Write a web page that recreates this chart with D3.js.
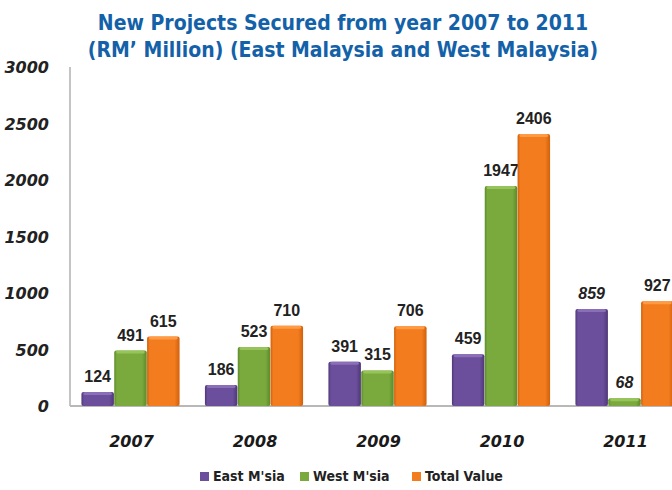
<!DOCTYPE html>
<html lang="en">
<meta charset="utf-8">
<head>
    <script src='https://d3js.org/d3.v7.min.js'></script>
    <style>
        body { margin: 0; background: #ffffff; }
    </style>
</head>
<body>
<div id="chart"></div>

<script>

// data
var years = ["2007", "2008", "2009", "2010", "2011"]
var seriesNames = ["East M'sia", "West M'sia", "Total Value"]
var eastValues = [124, 186, 391, 459, 859]
var westValues = [491, 523, 315, 1947, 68]
var totalValues = [615, 710, 706, 2406, 927]
var yTicks = [0, 500, 1000, 1500, 2000, 2500, 3000]
var titleLines = ["New Projects Secured from year 2007 to 2011",
                  "(RM\u2019 Million) (East Malaysia and West Malaysia)"]

var colors = ["#6b4f9c", "#7aaa3e", "#f27c1e"]
var darker = ["#4f3778", "#5c8a2a", "#d0600c"]
var lighter = ["#8a6fb8", "#97c45a", "#ff9a45"]

var width = 672, height = 490

var svg = d3.select("#chart")
    .append("svg")
    .attr("width", width)
    .attr("height", height)

// gradients for the bevelled bar look
var defs = svg.append("defs")
for (var i = 0; i < 3; i++) {
    var g = defs.append("linearGradient")
        .attr("id", "grad" + i)
        .attr("x1", "0%").attr("x2", "100%")
        .attr("y1", "0%").attr("y2", "0%")
    g.append("stop").attr("offset", "0%").attr("stop-color", darker[i])
    g.append("stop").attr("offset", "8%").attr("stop-color", colors[i])
    g.append("stop").attr("offset", "85%").attr("stop-color", colors[i])
    g.append("stop").attr("offset", "100%").attr("stop-color", darker[i])
}

// title
svg.append("g")
    .selectAll("text")
    .data(titleLines)
    .join("text")
    .attr("x", 343)
    .attr("y", function(d, i) { return 30 + i * 27 })
    .attr("text-anchor", "middle")
    .style("font-family", "'DejaVu Sans Condensed', 'DejaVu Sans', sans-serif")
    .style("font-stretch", "condensed")
    .style("font-weight", "bold")
    .style("font-size", "21px")
    .style("fill", "#1361a8")
    .text(function(d) { return d })

// scales
var x = d3.scaleBand()
    .domain(years)
    .range([68.75, 686.25])
    .paddingInner(0.2)
    .paddingOuter(0.1)

var xSub = d3.scaleBand()
    .domain([0, 1, 2])
    .range([0, x.bandwidth()])
    .padding(0.01)

var y = d3.scaleLinear()
    .domain([0, 3000])
    .range([406, 67])

// axis lines
svg.append("line")
    .attr("x1", 70).attr("x2", 70)
    .attr("y1", y(3000)).attr("y2", y(0))
    .attr("stroke", "#b0b0b0")
    .attr("stroke-width", 1.5)
svg.append("line")
    .attr("x1", 70).attr("x2", width)
    .attr("y1", y(0)).attr("y2", y(0))
    .attr("stroke", "#b8b8b8")
    .attr("stroke-width", 2)

// y tick labels
svg.append("g")
    .selectAll("text")
    .data(yTicks)
    .join("text")
    .attr("x", 49)
    .attr("y", function(d) { return y(d) + 6 })
    .attr("text-anchor", "end")
    .style("font-family", "'DejaVu Sans', sans-serif")
    .style("font-style", "italic")
    .style("font-weight", "bold")
    .style("font-size", "16px")
    .style("fill", "#222")
    .text(function(d) { return d })

// bars
var rows = years.map(function(yr, i) {
    return { year: yr, values: [eastValues[i], westValues[i], totalValues[i]] }
})

var groups = svg.append("g")
    .selectAll("g")
    .data(rows)
    .join("g")
    .attr("transform", function(d) { return "translate(" + x(d.year) + ",0)" })

var cells = groups.selectAll("g")
    .data(function(d) { return d.values.map(function(v, k) { return { k: k, v: v, year: d.year } }) })
    .join("g")

cells.append("rect")
    .attr("x", function(d) { return xSub(d.k) })
    .attr("y", function(d) { return y(d.v) })
    .attr("width", xSub.bandwidth())
    .attr("height", function(d) { return y(0) - y(d.v) })
    .attr("rx", 2)
    .attr("fill", function(d) { return "url(#grad" + d.k + ")" })

// light top edge
cells.append("rect")
    .attr("x", function(d) { return xSub(d.k) + 2 })
    .attr("y", function(d) { return y(d.v) })
    .attr("width", xSub.bandwidth() - 4)
    .attr("height", function(d) { return Math.min(3, y(0) - y(d.v)) })
    .attr("rx", 1.5)
    .attr("fill", function(d) { return lighter[d.k] })

// value labels
cells.append("text")
    .attr("x", function(d) { return xSub(d.k) + xSub.bandwidth() / 2 })
    .attr("y", function(d) { return y(d.v) - 10 })
    .attr("text-anchor", "middle")
    .style("font-family", "'Liberation Sans', Arial, sans-serif")
    .style("font-weight", "bold")
    .style("font-size", "16px")
    .style("font-style", function(d) { return d.year == "2011" && d.k < 2 ? "italic" : "normal" })
    .style("fill", "#222")
    .text(function(d) { return d.v })

// category labels
svg.append("g")
    .selectAll("text")
    .data(years)
    .join("text")
    .attr("x", function(d) { return x(d) + x.bandwidth() / 2 + 1 })
    .attr("y", 447)
    .attr("text-anchor", "middle")
    .style("font-family", "'DejaVu Sans', sans-serif")
    .style("font-style", "italic")
    .style("font-weight", "bold")
    .style("font-size", "16px")
    .style("fill", "#1a1a1a")
    .text(function(d) { return d })

// legend
var legendX = [200, 300, 412]
var legend = svg.append("g")
    .selectAll("g")
    .data(seriesNames)
    .join("g")
    .attr("transform", function(d, i) { return "translate(" + legendX[i] + ",472)" })

legend.append("rect")
    .attr("width", 9)
    .attr("height", 9)
    .attr("fill", function(d, i) { return colors[i] })

legend.append("text")
    .attr("x", 13)
    .attr("y", 9)
    .style("font-family", "'DejaVu Sans Condensed', 'DejaVu Sans', sans-serif")
    .style("font-stretch", "condensed")
    .style("font-weight", "bold")
    .style("font-size", "14px")
    .style("fill", "#222")
    .text(function(d) { return d })

</script>
</body>
</html>
